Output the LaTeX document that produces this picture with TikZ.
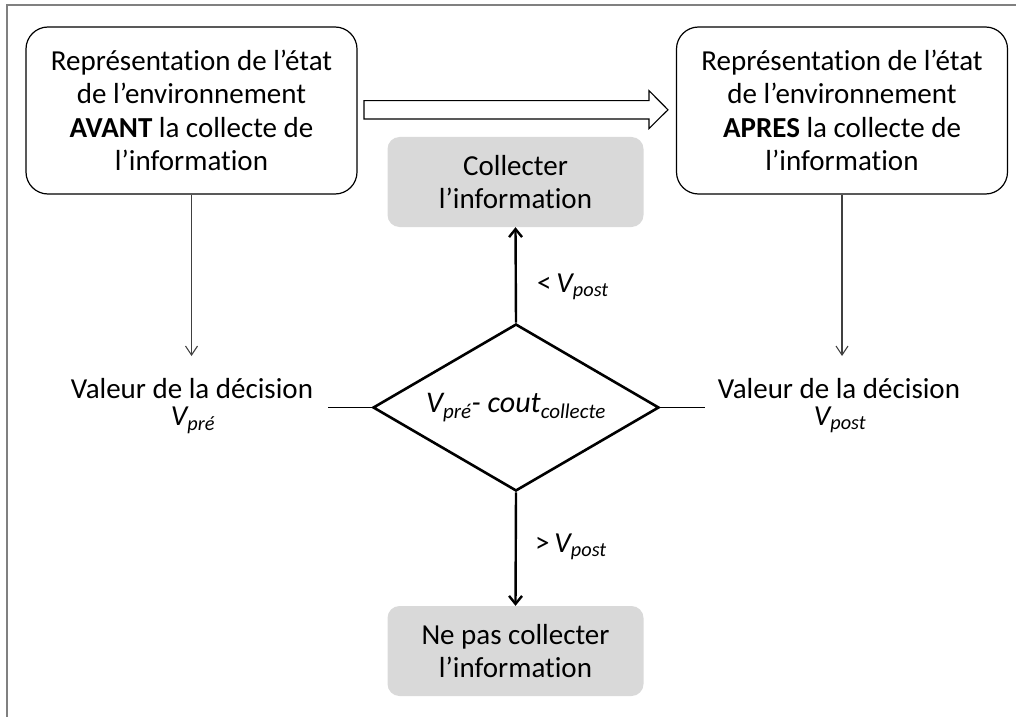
\documentclass[tikz,border=0pt]{standalone}
\usepackage{fontspec}
\setmainfont{Carlito}[Ligatures={NoCommon}]
\usetikzlibrary{arrows.meta,shapes.geometric}
\definecolor{boxgray}{HTML}{D9D9D9}
\definecolor{framegray}{HTML}{808080}
\definecolor{thingray}{HTML}{404040}
\begin{document}
\begin{tikzpicture}[x=1bp,y=-1bp,
  txt/.style={font=\fontsize{29bp}{33.5bp}\selectfont, align=center, inner sep=0},
  statebox/.style={txt, draw, line width=1.2bp, rounded corners=22bp, minimum width=331bp, minimum height=167bp},
  actbox/.style={txt, fill=boxgray, rounded corners=12bp, minimum width=256bp, minimum height=90bp},
  thinarrow/.style={draw=thingray, line width=1.1bp, -{Straight Barb[length=9bp,width=12bp]}},
  thickarrow/.style={draw=black, line width=2.4bp, -{Straight Barb[length=8bp,width=13bp]}},
  thinline/.style={draw=black, line width=1.2bp},
  ]
\useasboundingbox (0,0) rectangle (1016,717);
\draw[framegray, line width=2bp] (6.5,717) -- (6.5,5) -- (1016,5);

\node[statebox] (before) at (191.5,110.5) {Représentation de l’état\\de l’environnement\\\textbf{AVANT} la collecte de\\l’information};
\node[statebox] (after) at (842,110.5) {Représentation de l’état\\de l’environnement\\\textbf{APRES} la collecte de\\l’information};

\draw[line width=1.1bp] (364,100.7) -- (649,100.7) -- (649,90.7) -- (668,109.8) -- (649,128.5) -- (649,119) -- (364,119) -- cycle;

\node[actbox] (collect) at (515.5,182) {Collecter\\l’information};
\node[actbox] (nopas) at (515.5,651) {Ne pas collecter\\l’information};

\node[diamond, draw, line width=2.6bp, aspect=1.71, minimum width=286bp, minimum height=167bp, inner sep=0, font=\fontsize{30bp}{34bp}\selectfont\itshape] (dec) at (516,407.5) {V\textsubscript{pré}- cout\textsubscript{collecte}};

\draw[thickarrow] (dec.north) -- (collect.south);
\draw[thickarrow] (dec.south) -- (nopas.north);

\node[txt, anchor=west] (lup) at (537,287) {<\,\textit{V\textsubscript{post}}};
\node[txt, anchor=west] (ldown) at (535,547) {>\,\textit{V\textsubscript{post}}};

\node[txt, anchor=base] (vl) at (192,398) {Valeur de la décision};
\node[txt, anchor=base] (vpre) at (193,425) {\textit{V\textsubscript{pré}}};
\node[txt, anchor=base] (vr) at (839,398) {Valeur de la décision};
\node[txt, anchor=base] (vpost) at (840,425) {\textit{V\textsubscript{post}}};

\coordinate (lend) at (328,407.5);
\coordinate (rend) at (705,407.5);
\draw[thinline] (dec.west) -- (lend);
\draw[thinline] (dec.east) -- (rend);

\coordinate (ltip) at (191.5,356);
\coordinate (rtip) at (842,356);
\draw[thinarrow] (before.south) -- (ltip);
\draw[thinarrow] (after.south) -- (rtip);
\end{tikzpicture}
\end{document}
